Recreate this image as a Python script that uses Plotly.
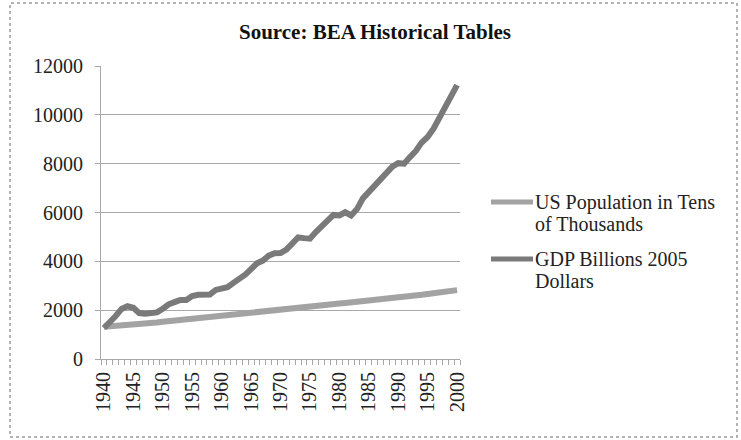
import plotly.graph_objects as go

# Years on the category axis
years = list(range(1940, 2001))
tick_years = [1940, 1945, 1950, 1955, 1960, 1965, 1970, 1975, 1980, 1985, 1990, 1995, 2000]

# US population, in hundreds of thousands of people
population = [
    1321, 1334, 1349, 1367, 1384, 1399, 1414, 1441, 1466, 1492,
    1523, 1549, 1576, 1602, 1630, 1659, 1689, 1720, 1749, 1778,
    1807, 1837, 1865, 1892, 1919, 1943, 1966, 1987, 2007, 2027,
    2051, 2077, 2099, 2119, 2139, 2160, 2180, 2202, 2226, 2251,
    2272, 2295, 2317, 2338, 2358, 2379, 2401, 2423, 2445, 2468,
    2496, 2530, 2565, 2599, 2631, 2663, 2694, 2727, 2759, 2790,
    2822,
]

# Real GDP, billions of 2005 dollars
gdp = [
    1270, 1480, 1760, 2050, 2160, 2100, 1880, 1850, 1900, 1910,
    2060, 2240, 2330, 2420, 2420, 2580, 2630, 2660, 2640, 2830,
    2880, 2940, 3120, 3270, 3450, 3680, 3920, 4030, 4230, 4330,
    4340, 4480, 4720, 4980, 4950, 4930, 5200, 5430, 5730, 5900,
    5880, 6010, 5880, 6140, 6580, 6850, 7080, 7310, 7620, 7880,
    8020, 8000, 8270, 8520, 8870, 9090, 9430, 9850, 10290, 10790,
    11220,
]

pop_name = "US Population in Tens of Thousands"
gdp_name = "GDP Billions 2005 Dollars"
title_text = "Source: BEA Historical Tables"

FONT = "Liberation Serif"
POP_COLOR = "#a3a3a3"
GDP_COLOR = "#7a7a7a"
GRID = "#a8a8a8"
TEXT = "#222222"

W, H = 741, 440
ML, MR, MT, MB = 101, 281, 66, 81
PW, PH = W - ML - MR, H - MT - MB


def px_x(x):
    """Pixel column -> paper x."""
    return (x - ML) / PW


def px_y(y):
    """Pixel row -> paper y."""
    return (H - MB - y) / PH


fig = go.Figure()
fig.add_trace(go.Scatter(
    x=years, y=population, name=pop_name, mode="lines",
    line=dict(color=POP_COLOR, width=6), showlegend=False,
))
fig.add_trace(go.Scatter(
    x=years, y=gdp, name=gdp_name, mode="lines",
    line=dict(color=GDP_COLOR, width=6), showlegend=False,
))

# Legend: line samples with two-line labels
legend_rows = [
    (202, POP_COLOR, ["US Population in Tens", "of Thousands"]),
    (259, GDP_COLOR, ["GDP Billions 2005", "Dollars"]),
]
shapes = []
annotations = []
for y0, color, lines in legend_rows:
    shapes.append(dict(
        type="line", xref="paper", yref="paper",
        x0=px_x(491), x1=px_x(533), y0=px_y(y0), y1=px_y(y0),
        line=dict(color=color, width=5),
    ))
    for i, txt in enumerate(lines):
        annotations.append(dict(
            xref="paper", yref="paper", x=px_x(533), y=px_y(y0 + i * 22),
            xanchor="left", yanchor="middle", showarrow=False,
            text=txt, font=dict(family=FONT, size=20, color=TEXT),
        ))

# Dotted frame around the whole chart
shapes.append(dict(
    type="rect", xref="paper", yref="paper", layer="below",
    x0=px_x(10), x1=px_x(737), y0=px_y(437), y1=px_y(3),
    line=dict(color="#9a9a9a", width=1.5, dash="dot"),
))

fig.update_layout(
    width=W, height=H,
    margin=dict(l=ML, r=MR, t=MT, b=MB),
    paper_bgcolor="white", plot_bgcolor="white",
    font=dict(family=FONT, size=20, color=TEXT),
    title=dict(
        text="<b>" + title_text + "</b>",
        xref="container", yref="container",
        x=375 / W, y=1 - 32 / H, xanchor="center", yanchor="middle",
        font=dict(family=FONT, size=21, color="#111111"),
    ),
    shapes=shapes,
    annotations=annotations,
)

fig.update_xaxes(
    range=[1939.5, 2000.5],
    tickmode="array", tickvals=tick_years, ticktext=[str(t) for t in tick_years],
    tickangle=-90, ticks="", showgrid=False, zeroline=False,
    showline=True, linecolor=GRID, linewidth=1,
    tickfont=dict(family=FONT, size=20, color=TEXT),
    ticklabelstandoff=4,
    minor=dict(ticks="outside", ticklen=5, tickcolor=GRID, tickwidth=1,
               tickmode="linear", tick0=1939.5, dtick=1, showgrid=False),
)
fig.update_yaxes(
    range=[0, 12000], dtick=2000, tickformat="d",
    showgrid=True, gridcolor=GRID, gridwidth=1, zeroline=False,
    showline=True, linecolor=GRID, linewidth=1,
    ticks="outside", ticklen=5, tickcolor=GRID,
    tickfont=dict(family=FONT, size=20, color=TEXT),
    ticklabelstandoff=8,
)

fig.write_html("out.html")
